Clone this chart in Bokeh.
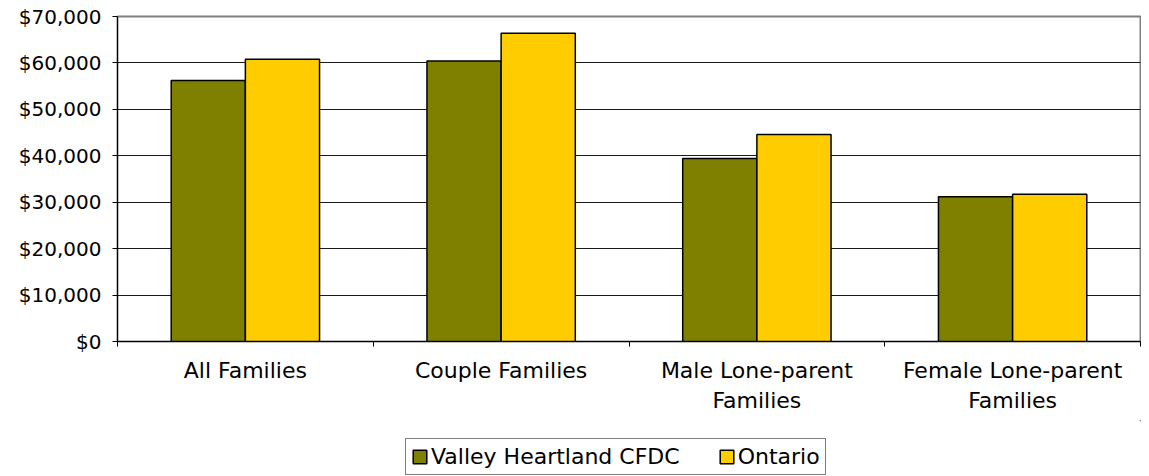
from bokeh.plotting import figure
from bokeh.layouts import column
from bokeh.models import (FixedTicker, NumeralTickFormatter, Range1d, Legend,
                          LegendItem, ColumnDataSource)
from bokeh.embed import file_html
from bokeh.resources import INLINE

categories = ["All Families", "Couple Families", "Male Lone-parent\nFamilies",
              "Female Lone-parent\nFamilies"]
series_names = ["Valley Heartland CFDC", "Ontario"]
valley = [56200, 60400, 39400, 31200]
ontario = [60800, 66400, 44600, 31700]
y_ticks = [0, 10000, 20000, 30000, 40000, 50000, 60000, 70000]
colors = ["#808000", "#FFCC00"]

FONT = "DejaVu Sans"
bar_w = 0.29

centers = [i + 0.5 for i in range(len(categories))]
src = ColumnDataSource(dict(
    xv=[c - bar_w / 2 for c in centers],
    xo=[c + bar_w / 2 for c in centers],
    valley=valley,
    ontario=ontario,
))

p = figure(width=1141, height=420, output_backend="svg", toolbar_location=None,
           x_range=Range1d(0, len(categories)), y_range=Range1d(0, 70000),
           min_border_left=117, min_border_right=1, min_border_top=16,
           min_border_bottom=79)

r1 = p.vbar(x="xv", top="valley", width=bar_w, source=src,
            fill_color=colors[0], line_color="black", line_width=1.5)
r2 = p.vbar(x="xo", top="ontario", width=bar_w, source=src,
            fill_color=colors[1], line_color="black", line_width=1.5)

p.background_fill_color = "white"
p.border_fill_color = "white"
p.outline_line_color = "#808080"
p.outline_line_width = 2

# x axis
p.xaxis.ticker = FixedTicker(ticks=centers, minor_ticks=list(range(len(categories) + 1)))
p.xaxis.major_label_overrides = {c: lab for c, lab in zip(centers, categories)}
p.xaxis.major_tick_line_color = None
p.xaxis.minor_tick_line_color = "black"
p.xaxis.minor_tick_out = 5
p.xaxis.minor_tick_in = 0
p.xaxis.axis_line_color = "black"
p.xaxis.major_label_text_font = FONT
p.xaxis.major_label_text_font_size = "22px"
p.xaxis.major_label_text_color = "black"
p.xaxis.major_label_standoff = 10
p.xgrid.grid_line_color = None

# y axis
p.yaxis.ticker = FixedTicker(ticks=y_ticks)
p.yaxis.formatter = NumeralTickFormatter(format="$0,0")
p.yaxis.major_tick_out = 5
p.yaxis.major_tick_in = 0
p.yaxis.minor_tick_line_color = None
p.yaxis.axis_line_color = "black"
p.yaxis.major_tick_line_color = "black"
p.yaxis.major_label_text_font = FONT
p.yaxis.major_label_text_font_size = "20px"
p.yaxis.major_label_text_color = "black"
p.yaxis.major_label_standoff = 11
p.ygrid.grid_line_color = "#1a1a1a"
p.ygrid.grid_line_width = 1

# legend strip below the chart (swatch renderers sit outside the visible range)
p2 = figure(width=1141, height=56, output_backend="svg", toolbar_location=None,
            x_range=Range1d(0, 1), y_range=Range1d(0, 1),
            min_border_left=0, min_border_right=0, min_border_top=0,
            min_border_bottom=0)
p2.axis.visible = False
p2.grid.grid_line_color = None
p2.outline_line_color = None
p2.background_fill_color = "white"
p2.border_fill_color = "white"
l1 = p2.vbar(x=[5], top=[5], bottom=[4], width=0.1, fill_color=colors[0],
             line_color="black", line_width=1.5)
l2 = p2.vbar(x=[5], top=[5], bottom=[4], width=0.1, fill_color=colors[1],
             line_color="black", line_width=1.5)

legend = Legend(items=[LegendItem(label=series_names[0], renderers=[l1]),
                       LegendItem(label=series_names[1], renderers=[l2])],
                orientation="horizontal", location=(288, 1),
                label_text_font=FONT, label_text_font_size="22px",
                label_text_color="black",
                glyph_width=17, glyph_height=17, label_standoff=3,
                spacing=38, padding=5, margin=0,
                border_line_color="black", border_line_width=1,
                background_fill_color="white", background_fill_alpha=1)
p2.add_layout(legend, "center")

open("out.html", "w").write(file_html(column(p, p2), INLINE))
